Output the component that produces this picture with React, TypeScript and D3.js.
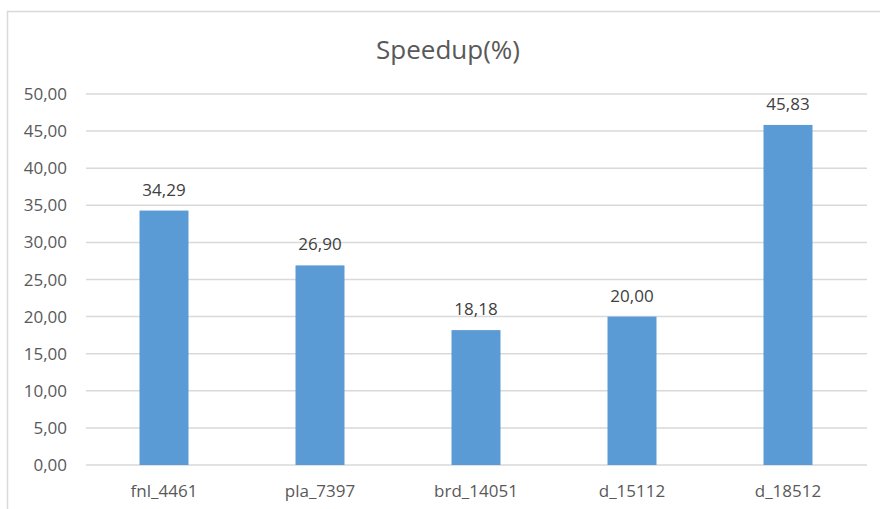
import { useEffect, useRef } from "react";
import * as d3 from "d3";

const categories = ["fnl_4461", "pla_7397", "brd_14051", "d_15112", "d_18512"];
const speedup = [34.29, 26.9, 18.18, 20.0, 45.83];
const yTicks = [0, 5, 10, 15, 20, 25, 30, 35, 40, 45, 50];

const fmt = (v: number) => v.toFixed(2).replace(".", ",");

export default function App() {
  const svgRef = useRef<SVGSVGElement>(null);

  useEffect(() => {
    if (!svgRef.current) return;
    const svg = d3.select(svgRef.current);
    svg.selectAll("*").remove();

    const width = 880;
    const height = 509;
    const font = "'Open Sans', sans-serif";
    const grey = "#595959";

    // chart frame (cropped screenshot)
    svg
      .append("rect")
      .attr("x", 7.5)
      .attr("y", 11.5)
      .attr("width", width + 20)
      .attr("height", height + 20)
      .attr("fill", "#fff")
      .attr("stroke", "#d9d9d9")
      .attr("stroke-width", 1.5);

    const x = d3
      .scaleBand()
      .domain(categories)
      .range([86, 866])
      .paddingInner(0.686)
      .paddingOuter(0.343);

    const y = d3.scaleLinear().domain([0, 50]).range([465, 94]);

    // Grid lines
    svg
      .append("g")
      .selectAll("line")
      .data(yTicks)
      .join("line")
      .attr("x1", 86)
      .attr("x2", 867)
      .attr("y1", (d) => y(d))
      .attr("y2", (d) => y(d))
      .attr("stroke", "#d9d9d9")
      .attr("stroke-width", 1.5);

    // Y tick labels
    svg
      .append("g")
      .selectAll("text")
      .data(yTicks)
      .join("text")
      .attr("x", 67)
      .attr("y", (d) => y(d) + 6)
      .attr("text-anchor", "end")
      .attr("fill", grey)
      .attr("font-family", font)
      .attr("font-size", "17px")
      .text((d) => fmt(d));

    // Bars
    svg
      .append("g")
      .selectAll("rect")
      .data(speedup)
      .join("rect")
      .attr("x", (_, i) => x(categories[i])!)
      .attr("y", (d) => y(d))
      .attr("width", x.bandwidth())
      .attr("height", (d) => y(0) - y(d))
      .attr("fill", "#5b9bd5");

    // Value labels
    svg
      .append("g")
      .selectAll("text")
      .data(speedup)
      .join("text")
      .attr("x", (_, i) => x(categories[i])! + x.bandwidth() / 2)
      .attr("y", (d) => y(d) - 15)
      .attr("text-anchor", "middle")
      .attr("fill", "#404040")
      .attr("font-family", font)
      .attr("font-size", "17px")
      .text((d) => fmt(d));

    // Category labels
    svg
      .append("g")
      .selectAll("text")
      .data(categories)
      .join("text")
      .attr("x", (d) => x(d)! + x.bandwidth() / 2)
      .attr("y", 497)
      .attr("text-anchor", "middle")
      .attr("fill", grey)
      .attr("font-family", font)
      .attr("font-size", "17px")
      .text((d) => d);

    // Title
    svg
      .append("text")
      .attr("x", 448)
      .attr("y", 59)
      .attr("text-anchor", "middle")
      .attr("fill", grey)
      .attr("font-family", font)
      .attr("font-size", "26px")
      .text("Speedup(%)");
  }, []);

  return (
    <svg
      ref={svgRef}
      width={880}
      height={509}
      style={{ position: "absolute", left: 0, top: 0, background: "#fff" }}
    />
  );
}
